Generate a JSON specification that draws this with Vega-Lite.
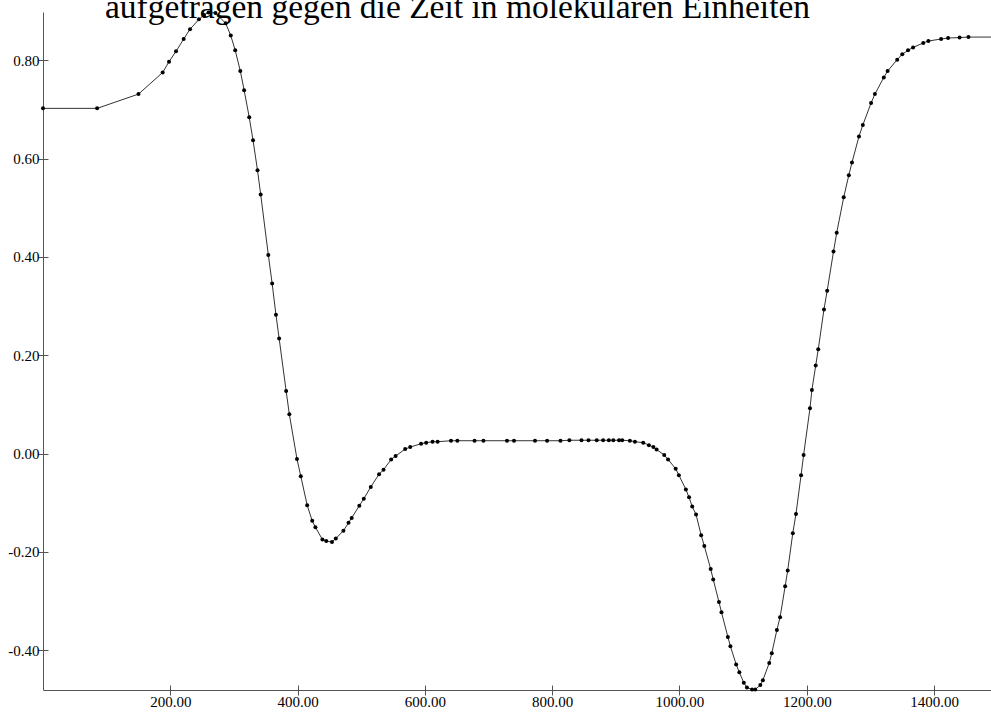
{
  "$schema": "https://vega.github.io/schema/vega-lite/v6.json",
  "width": 948,
  "height": 678,
  "autosize": {"type": "none"},
  "padding": {"left": 43, "top": 12, "right": 0, "bottom": 23},
  "background": "white",
  "title": {
    "text": "aufgetragen gegen die Zeit in molekularen Einheiten",
    "font": "Liberation Serif",
    "fontSize": 33.5,
    "fontWeight": "normal",
    "color": "black",
    "anchor": "start",
    "frame": "group",
    "baseline": "alphabetic",
    "offset": -41,
    "dx": 62
  },
  "config": {
    "view": {"stroke": null},
    "axis": {
      "grid": false,
      "labelFont": "Liberation Serif",
      "labelFontSize": 15,
      "labelColor": "black",
      "domainColor": "#555555",
      "domainWidth": 1,
      "tickColor": "#555555",
      "tickWidth": 1,
      "title": null
    }
  },
  "data": {
    "values": [
      {"t": 0, "v": 0.702}, {"t": 85, "v": 0.702}, {"t": 150, "v": 0.731}, {"t": 188, "v": 0.775},
      {"t": 198, "v": 0.797}, {"t": 209, "v": 0.818}, {"t": 221, "v": 0.843}, {"t": 231, "v": 0.863},
      {"t": 245, "v": 0.883}, {"t": 253, "v": 0.892}, {"t": 260, "v": 0.897}, {"t": 271, "v": 0.896},
      {"t": 287, "v": 0.875}, {"t": 295, "v": 0.850}, {"t": 302, "v": 0.820}, {"t": 310, "v": 0.778},
      {"t": 316, "v": 0.739}, {"t": 324, "v": 0.684}, {"t": 330, "v": 0.637}, {"t": 337, "v": 0.576},
      {"t": 342, "v": 0.527}, {"t": 354, "v": 0.404}, {"t": 360, "v": 0.346}, {"t": 366, "v": 0.282},
      {"t": 371, "v": 0.234}, {"t": 382, "v": 0.127}, {"t": 387, "v": 0.080}, {"t": 399, "v": -0.011},
      {"t": 405, "v": -0.046}, {"t": 415, "v": -0.105}, {"t": 423, "v": -0.137}, {"t": 428, "v": -0.150},
      {"t": 439, "v": -0.175}, {"t": 445, "v": -0.178}, {"t": 454, "v": -0.180}, {"t": 460, "v": -0.173},
      {"t": 472, "v": -0.157}, {"t": 480, "v": -0.141}, {"t": 485, "v": -0.131}, {"t": 497, "v": -0.106},
      {"t": 504, "v": -0.092}, {"t": 515, "v": -0.068}, {"t": 528, "v": -0.042}, {"t": 535, "v": -0.033},
      {"t": 547, "v": -0.012}, {"t": 554, "v": -0.005}, {"t": 569, "v": 0.009}, {"t": 577, "v": 0.013},
      {"t": 594, "v": 0.020}, {"t": 602, "v": 0.022}, {"t": 612, "v": 0.024}, {"t": 620, "v": 0.024},
      {"t": 641, "v": 0.026}, {"t": 651, "v": 0.026}, {"t": 678, "v": 0.026}, {"t": 692, "v": 0.026},
      {"t": 729, "v": 0.026}, {"t": 740, "v": 0.026}, {"t": 773, "v": 0.026}, {"t": 792, "v": 0.026},
      {"t": 813, "v": 0.026}, {"t": 827, "v": 0.027}, {"t": 846, "v": 0.027}, {"t": 857, "v": 0.027},
      {"t": 870, "v": 0.027}, {"t": 880, "v": 0.027}, {"t": 889, "v": 0.027}, {"t": 896, "v": 0.027},
      {"t": 905, "v": 0.027}, {"t": 910, "v": 0.027}, {"t": 922, "v": 0.026}, {"t": 930, "v": 0.024},
      {"t": 943, "v": 0.022}, {"t": 952, "v": 0.017}, {"t": 959, "v": 0.013}, {"t": 964, "v": 0.008},
      {"t": 976, "v": -0.003}, {"t": 982, "v": -0.012}, {"t": 994, "v": -0.031}, {"t": 999, "v": -0.044},
      {"t": 1010, "v": -0.073}, {"t": 1015, "v": -0.089}, {"t": 1020, "v": -0.108}, {"t": 1026, "v": -0.124},
      {"t": 1034, "v": -0.166}, {"t": 1039, "v": -0.188}, {"t": 1049, "v": -0.235}, {"t": 1053, "v": -0.256},
      {"t": 1062, "v": -0.302}, {"t": 1066, "v": -0.323}, {"t": 1076, "v": -0.373}, {"t": 1080, "v": -0.392},
      {"t": 1089, "v": -0.429}, {"t": 1094, "v": -0.445}, {"t": 1101, "v": -0.466}, {"t": 1106, "v": -0.476},
      {"t": 1114, "v": -0.480}, {"t": 1119, "v": -0.480}, {"t": 1127, "v": -0.471}, {"t": 1131, "v": -0.461},
      {"t": 1141, "v": -0.426}, {"t": 1145, "v": -0.406}, {"t": 1153, "v": -0.359}, {"t": 1158, "v": -0.333},
      {"t": 1166, "v": -0.270}, {"t": 1170, "v": -0.238}, {"t": 1178, "v": -0.162}, {"t": 1183, "v": -0.123},
      {"t": 1191, "v": -0.044}, {"t": 1195, "v": -0.003}, {"t": 1205, "v": 0.092}, {"t": 1208, "v": 0.129},
      {"t": 1214, "v": 0.179}, {"t": 1218, "v": 0.212}, {"t": 1227, "v": 0.293}, {"t": 1232, "v": 0.331},
      {"t": 1242, "v": 0.411}, {"t": 1247, "v": 0.449}, {"t": 1258, "v": 0.521}, {"t": 1266, "v": 0.566},
      {"t": 1271, "v": 0.592}, {"t": 1282, "v": 0.645}, {"t": 1288, "v": 0.668}, {"t": 1301, "v": 0.713},
      {"t": 1307, "v": 0.731}, {"t": 1321, "v": 0.765}, {"t": 1327, "v": 0.778}, {"t": 1342, "v": 0.801},
      {"t": 1350, "v": 0.812}, {"t": 1359, "v": 0.820}, {"t": 1367, "v": 0.826}, {"t": 1383, "v": 0.835},
      {"t": 1391, "v": 0.839}, {"t": 1411, "v": 0.843}, {"t": 1422, "v": 0.845}, {"t": 1440, "v": 0.846},
      {"t": 1454, "v": 0.847}, {"t": 1520, "v": 0.847}
    ]
  },
  "layer": [
    {
      "mark": {"type": "line", "color": "#333333", "strokeWidth": 1, "clip": true},
      "encoding": {
        "x": {
          "field": "t", "type": "quantitative",
          "scale": {"domain": [0, 1489.4], "nice": false, "zero": false},
          "axis": {
            "orient": "bottom",
            "values": [200, 400, 600, 800, 1000, 1200, 1400],
            "labelExpr": "format(datum.value, '.2f')",
            "tickSize": 5,
            "labelPadding": -1,
            "labelBaseline": "top"
          }
        },
        "y": {
          "field": "v", "type": "quantitative",
          "scale": {"domain": [-0.481, 0.898], "nice": false, "zero": false},
          "axis": {
            "orient": "left",
            "values": [-0.4, -0.2, 0, 0.2, 0.4, 0.6, 0.8],
            "labelExpr": "replace(format(datum.value, '.2f'), '\u2212', '-')",
            "tickSize": 5,
            "labelPadding": -1
          }
        }
      }
    },
    {
      "transform": [{"filter": "datum.t < 1489"}],
      "mark": {"type": "circle", "color": "black", "size": 16, "opacity": 1},
      "encoding": {
        "x": {
          "field": "t", "type": "quantitative",
          "axis": {
            "orient": "bottom",
            "values": [200, 400, 600, 800, 1000, 1200, 1400],
            "tickSize": -5,
            "labels": false,
            "domain": false
          }
        },
        "y": {
          "field": "v", "type": "quantitative",
          "axis": {
            "orient": "left",
            "values": [-0.4, -0.2, 0, 0.2, 0.4, 0.6, 0.8],
            "tickSize": -5,
            "labels": false,
            "domain": false
          }
        }
      }
    }
  ],
  "resolve": {"axis": {"x": "independent", "y": "independent"}}
}
